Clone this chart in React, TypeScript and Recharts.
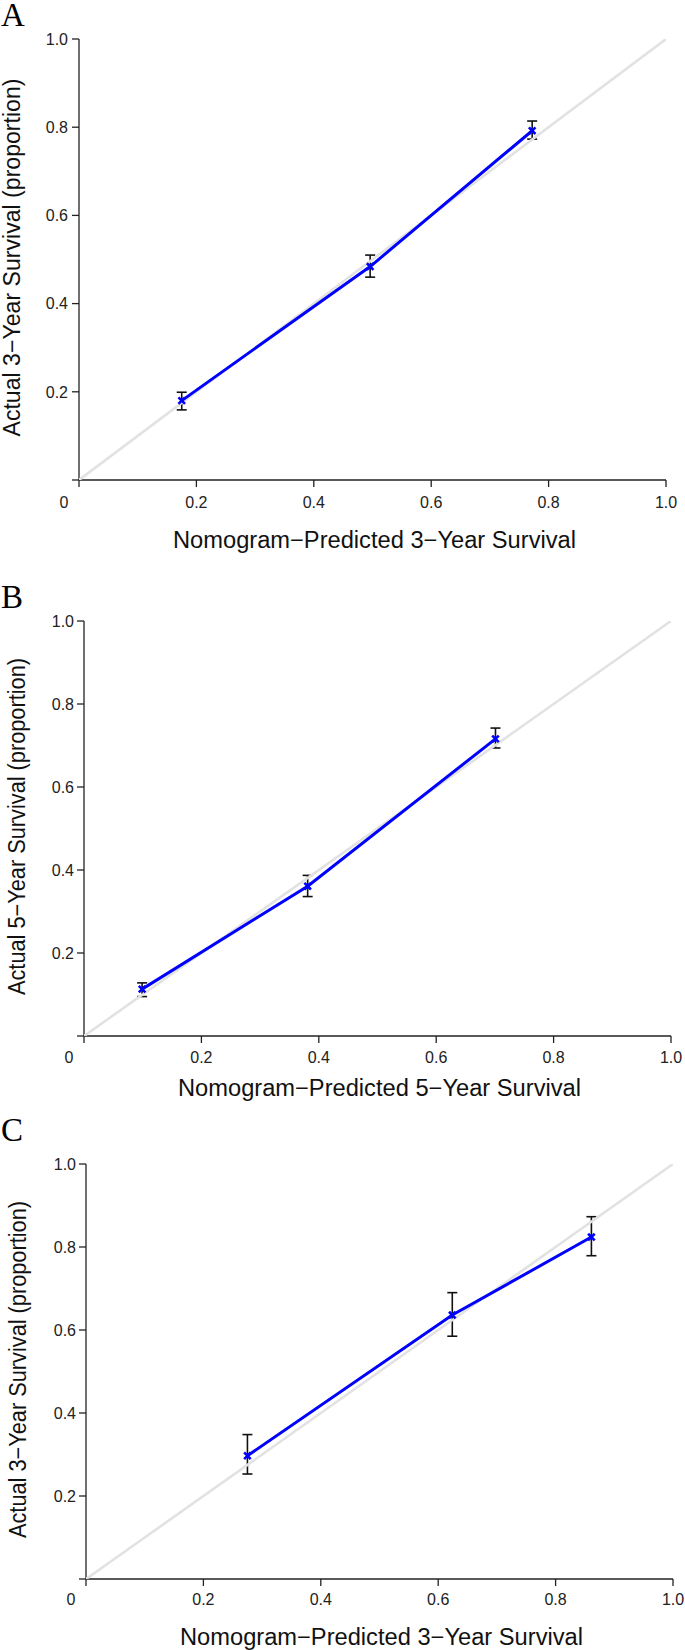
import React from 'react';
import { ComposedChart, Scatter, XAxis, YAxis, ErrorBar } from 'recharts';

// Panel A: 3-year calibration (training)
const predA = [0.175, 0.496, 0.772];
const obsA = [0.18, 0.484, 0.792];
const loA = [0.159, 0.46, 0.773];
const hiA = [0.199, 0.51, 0.814];

// Panel B: 5-year calibration
const predB = [0.099, 0.381, 0.701];
const obsB = [0.113, 0.361, 0.716];
const loB = [0.095, 0.336, 0.694];
const hiB = [0.128, 0.387, 0.742];

// Panel C: 3-year calibration (validation)
const predC = [0.275, 0.624, 0.861];
const obsC = [0.297, 0.636, 0.824];
const loC = [0.253, 0.585, 0.779];
const hiC = [0.348, 0.69, 0.873];

const xTicks = [0, 0.2, 0.4, 0.6, 0.8, 1.0];
const yTicks = [0, 0.2, 0.4, 0.6, 0.8, 1.0];
const diagonal = [
  { x: 0, y: 0 },
  { x: 1, y: 1 },
];

const AXIS = '#222';
const SANS = '"Liberation Sans", Arial, Helvetica, sans-serif';
const SERIF = '"Liberation Serif", "Times New Roman", serif';

function build(pred: number[], obs: number[], lo: number[], hi: number[]) {
  return pred.map((x, i) => ({ x, y: obs[i], err: [obs[i] - lo[i], hi[i] - obs[i]] }));
}

const fmt = (v: number) => (v === 0 ? '0' : v.toFixed(1));

const Cross = (props: any) => {
  const { cx, cy } = props;
  if (cx == null || cy == null) return <g />;
  const s = 3.3;
  return (
    <path
      d={`M${cx - s},${cy - s}L${cx + s},${cy + s}M${cx + s},${cy - s}L${cx - s},${cy + s}`}
      stroke="#0000ff"
      strokeWidth={2.6}
      fill="none"
    />
  );
};

const Empty = () => <g />;

type PanelProps = {
  top: number;
  height: number;
  letter: string;
  letterY: number;
  marginTop: number;
  marginRight: number;
  yAxisWidth: number;
  xAxisHeight: number;
  xTickMargin: number;
  yTickMargin: number;
  xTitle: string;
  xTitleDy: number;
  yTitle: string;
  yTitleX: number;
  yTitleLen: number;
  data: { x: number; y: number; err: number[] }[];
};

function Panel(p: PanelProps) {
  const plotTop = p.marginTop;
  const plotBottom = p.height - p.xAxisHeight;
  const plotLeft = p.yAxisWidth;
  const plotRight = 685 - p.marginRight;
  const cy = (plotTop + plotBottom) / 2 - 2;
  const cx = (plotLeft + plotRight) / 2 + 2;

  const XTick = (t: any) => {
    const v = t.payload.value;
    return (
      <text
        x={t.x + (v === 0 ? -15 : 0)}
        y={t.y + 11}
        textAnchor="middle"
        fontSize={16}
        fontFamily={SANS}
        fill={AXIS}
      >
        {fmt(v)}
      </text>
    );
  };
  const YTick = (t: any) => {
    const v = t.payload.value;
    if (v === 0) return <g />;
    return (
      <text x={t.x} y={t.y + 5.7} textAnchor="end" fontSize={16} fontFamily={SANS} fill={AXIS}>
        {fmt(v)}
      </text>
    );
  };

  return (
    <div style={{ position: 'absolute', left: 0, top: p.top, width: 685, height: p.height }}>
      <ComposedChart
        width={685}
        height={p.height}
        margin={{ top: p.marginTop, right: p.marginRight, left: 0, bottom: 0 }}
      >
        <XAxis
          type="number"
          dataKey="x"
          domain={[0, 1]}
          ticks={xTicks}
          interval={0}
          height={p.xAxisHeight}
          stroke={AXIS}
          strokeWidth={1.3}
          tickSize={7}
          tickMargin={p.xTickMargin}
          tick={XTick}
          allowDataOverflow
          label={{
            content: () => (
              <text
                x={cx}
                y={plotBottom + p.xTitleDy}
                textAnchor="middle"
                fontSize={23}
                fontFamily={SANS}
                fill="#111"
                textLength={403}
                lengthAdjust="spacingAndGlyphs"
              >
                {p.xTitle}
              </text>
            ),
          }}
        />
        <YAxis
          type="number"
          dataKey="y"
          domain={[0, 1]}
          ticks={yTicks}
          interval={0}
          width={p.yAxisWidth}
          stroke={AXIS}
          strokeWidth={1.3}
          tickSize={7}
          tickMargin={p.yTickMargin}
          tick={YTick}
          allowDataOverflow
          label={{
            content: () => (
              <g>
                <text
                  x={p.yTitleX}
                  y={cy}
                  transform={`rotate(-90, ${p.yTitleX}, ${cy})`}
                  textAnchor="middle"
                  fontSize={23}
                  fontFamily={SANS}
                  fill="#111"
                  textLength={p.yTitleLen}
                  lengthAdjust="spacingAndGlyphs"
                >
                  {p.yTitle}
                </text>
                <text x={1} y={p.letterY} fontSize={33} fontFamily={SERIF} fill="#000">
                  {p.letter}
                </text>
              </g>
            ),
          }}
        />
        <Scatter
          data={diagonal}
          line={{ stroke: '#e2e2e2', strokeWidth: 2.6 }}
          shape={Empty}
          isAnimationActive={false}
        />
        <Scatter
          data={p.data}
          line={{ stroke: '#0000ff', strokeWidth: 3 }}
          shape={Cross}
          isAnimationActive={false}
        >
          <ErrorBar dataKey="err" direction="y" width={5} stroke="#111" strokeWidth={1.6} isAnimationActive={false} />
        </Scatter>
      </ComposedChart>
    </div>
  );
}

export default function App() {
  return (
    <div style={{ position: 'absolute', left: 0, top: 0, width: 685, height: 1650, background: '#fff' }}>
      <Panel
        top={0}
        height={560}
        letter="A"
        letterY={26}
        marginTop={39}
        marginRight={19}
        yAxisWidth={79}
        xAxisHeight={80}
        xTickMargin={10}
        yTickMargin={4}
        xTitle="Nomogram−Predicted 3−Year Survival"
        xTitleDy={68}
        yTitle="Actual 3−Year Survival (proportion)"
        yTitleX={20}
        yTitleLen={358}
        data={build(predA, obsA, loA, hiA)}
      />
      <Panel
        top={560}
        height={560}
        letter="B"
        letterY={48}
        marginTop={61}
        marginRight={14}
        yAxisWidth={84}
        xAxisHeight={84}
        xTickMargin={9}
        yTickMargin={3}
        xTitle="Nomogram−Predicted 5−Year Survival"
        xTitleDy={60}
        yTitle="Actual 5−Year Survival (proportion)"
        yTitleX={25}
        yTitleLen={337}
        data={build(predB, obsB, loB, hiB)}
      />
      <Panel
        top={1100}
        height={550}
        letter="C"
        letterY={41}
        marginTop={64}
        marginRight={12}
        yAxisWidth={86}
        xAxisHeight={71}
        xTickMargin={8}
        yTickMargin={3}
        xTitle="Nomogram−Predicted 3−Year Survival"
        xTitleDy={66}
        yTitle="Actual 3−Year Survival (proportion)"
        yTitleX={26}
        yTitleLen={337}
        data={build(predC, obsC, loC, hiC)}
      />
    </div>
  );
}
